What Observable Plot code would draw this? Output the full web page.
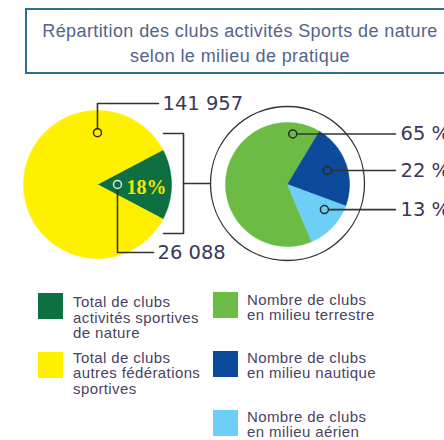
<!DOCTYPE html>
<html><head><meta charset="utf-8">
<script src="https://cdn.jsdelivr.net/npm/d3@7"></script>
<script src="https://cdn.jsdelivr.net/npm/@observablehq/plot@0.6"></script>
<style>
html,body{margin:0;padding:0;background:#fff;}
body{width:444px;height:440px;overflow:hidden;position:relative;font-family:"Liberation Sans Narrow","Liberation Sans",sans-serif;}
#title{position:absolute;left:25px;top:8px;width:430px;height:66px;box-sizing:border-box;border:2px solid #2a6f90;
  text-align:center;color:#52648a;font-size:18px;line-height:25px;padding-top:9px;letter-spacing:0.4px;}
#chart{position:absolute;left:0;top:80px;}
.sw{position:absolute;}
.tx{position:absolute;color:#4a4263;font-size:15px;line-height:15.5px;letter-spacing:0.4px;white-space:nowrap;}
</style></head>
<body>
<div id="title"></div>
<div id="chart"></div>
<div id="legend"></div>
<script>
// ---- data ----
const titleLines = ["Répartition des clubs activités Sports de nature", "selon le milieu de pratique"];
const leftKeys = ["nature", "autres"];
const leftValues = [26088, 141957];
const leftLabels = ["26 088", "141 957"];
const ratioLabel = "18%";
const rightKeys = ["terrestre", "nautique", "aerien"];
const rightValues = [65, 22, 13];
const rightLabels = ["65 %", "22 %", "13 %"];
const colorKeys = ["nature", "autres", "terrestre", "nautique", "aerien"];
const colorRange = ["#0d7040", "#fff000", "#6cbb45", "#0c4a9c", "#6dcff6"];
const legendTexts = {
  nature: ["Total de clubs", "activités sportives", "de nature"],
  autres: ["Total de clubs", "autres fédérations", "sportives"],
  terrestre: ["Nombre de clubs", "en milieu terrestre"],
  nautique: ["Nombre de clubs", "en milieu nautique"],
  aerien: ["Nombre de clubs", "en milieu aérien"]
};

// ---- title ----
document.getElementById("title").innerHTML = titleLines.join("<br>");

// ---- geometry helpers ----
const rad = d => d * Math.PI / 180;
function pieGeom(values, keys, cx, cy, r, startDeg) {
  const arcs = d3.pie().sort(null).startAngle(rad(startDeg)).endAngle(rad(startDeg + 360))(values);
  const pts = [];
  arcs.forEach((a, i) => {
    pts.push({k: keys[i], x: cx, y: cy});
    const n = Math.max(2, Math.ceil((a.endAngle - a.startAngle) / rad(1)));
    for (let j = 0; j <= n; j++) {
      const t = a.startAngle + (a.endAngle - a.startAngle) * j / n;
      pts.push({k: keys[i], x: cx + r * Math.sin(t), y: cy - r * Math.cos(t)});
    }
  });
  const at = (i, frac, rf) => {
    const a = arcs[i];
    const t = a.startAngle + frac * (a.endAngle - a.startAngle);
    return {k: keys[i], x: cx + rf * r * Math.sin(t), y: cy - rf * r * Math.cos(t)};
  };
  return {arcs, pts, at};
}

// layout
const L = {cx: 97, cy: 184, r: 74, start: 62};
const R = {cx: 287, cy: 184, r: 62, start: 157, outer: 77};
const left = pieGeom(leftValues, leftKeys, L.cx, L.cy, L.r, L.start);
const right = pieGeom(rightValues, rightKeys, R.cx, R.cy, R.r, R.start);

// markers
const mNature = left.at(0, 0.5, 0.27);
const mAutres = left.at(1, 0.796, 0.70);
const rMarks = [right.at(0, 0.893, 0.82), right.at(1, 0.5, 0.68), right.at(2, 0.3, 0.72)];

const leaders = [
  {g: "a", x: mAutres.x, y: mAutres.y}, {g: "a", x: mAutres.x, y: 103}, {g: "a", x: 158, y: 103},
  {g: "n", x: mNature.x, y: mNature.y}, {g: "n", x: mNature.x, y: 252}, {g: "n", x: 153, y: 252},
  ...rMarks.flatMap((m, i) => [{g: "r" + i, x: m.x, y: m.y}, {g: "r" + i, x: 395, y: m.y}]),
  {g: "b", x: 163, y: L.cy - 51}, {g: "b", x: 183, y: L.cy - 51}, {g: "b", x: 183, y: L.cy + 49}, {g: "b", x: 163, y: L.cy + 49},
  {g: "s", x: 183, y: L.cy - 1}, {g: "s", x: R.cx - R.outer, y: L.cy - 1}
];

const numLabels = [
  {x: 162, y: 103, t: leftLabels[1]},
  {x: 157, y: 252, t: leftLabels[0]},
  ...rMarks.map((m, i) => ({x: 400, y: m.y, t: rightLabels[i]}))
];

const chart = Plot.plot({
  width: 444, height: 190, margin: 0,
  x: {domain: [0, 444], range: [0, 444], axis: null},
  y: {domain: [80, 270], range: [0, 190], axis: null},
  color: {domain: colorKeys, range: colorRange},
  style: {background: "transparent", overflow: "visible"},
  marks: [
    Plot.dot([{x: R.cx, y: R.cy - 1}], {x: "x", y: "y", r: R.outer, fill: "white", stroke: "#333", strokeWidth: 1.3}),
    Plot.line(left.pts, {x: "x", y: "y", z: "k", fill: "k", stroke: "k", strokeWidth: 0.5, curve: "linear-closed"}),
    Plot.line(right.pts, {x: "x", y: "y", z: "k", fill: "k", stroke: "k", strokeWidth: 0.5, curve: "linear-closed"}),
    Plot.line(leaders, {x: "x", y: "y", z: "g", stroke: "#333", strokeWidth: 1.6, fill: "none", curve: "linear"}),
    Plot.dot([mAutres, ...rMarks], {x: "x", y: "y", r: 4, fill: "k", stroke: "#2a2a2a", strokeWidth: 1.5}),
    Plot.dot([mNature], {x: "x", y: "y", r: 4, fill: "k", stroke: "#e0e0e0", strokeWidth: 1.5}),
    Plot.text([{x: mNature.x + 9, y: mNature.y + 3, t: ratioLabel}], {x: "x", y: "y", text: "t", textAnchor: "start",
      fill: "#f4e800", fontFamily: "Liberation Serif", fontWeight: "bold", fontSize: 20}),
    Plot.text(numLabels, {x: "x", y: "y", text: "t", textAnchor: "start", fill: "#3a3858",
      fontFamily: "DejaVu Sans", fontSize: 19.5})
  ]
});
document.getElementById("chart").appendChild(chart);

// ---- legend ----
const legendLayout = {
  nature: {sx: 38, sy: 293, tx: 73, ty: 294},
  autres: {sx: 38, sy: 352, tx: 73, ty: 349.5},
  terrestre: {sx: 213, sy: 292, tx: 247, ty: 291.5},
  nautique: {sx: 213, sy: 351, tx: 247, ty: 349.5},
  aerien: {sx: 213, sy: 410, tx: 247, ty: 408.5}
};
const colorScale = chart.scale("color");
const lg = document.getElementById("legend");
colorKeys.forEach(k => {
  const p = legendLayout[k];
  const sw = document.createElement("div");
  sw.className = "sw";
  sw.style.cssText = `left:${p.sx}px;top:${p.sy}px;width:25px;height:26px;background:${colorScale.apply(k)};`;
  lg.appendChild(sw);
  const tx = document.createElement("div");
  tx.className = "tx";
  tx.style.cssText = `left:${p.tx}px;top:${p.ty}px;`;
  tx.innerHTML = legendTexts[k].join("<br>");
  lg.appendChild(tx);
});
</script>
</body></html>
